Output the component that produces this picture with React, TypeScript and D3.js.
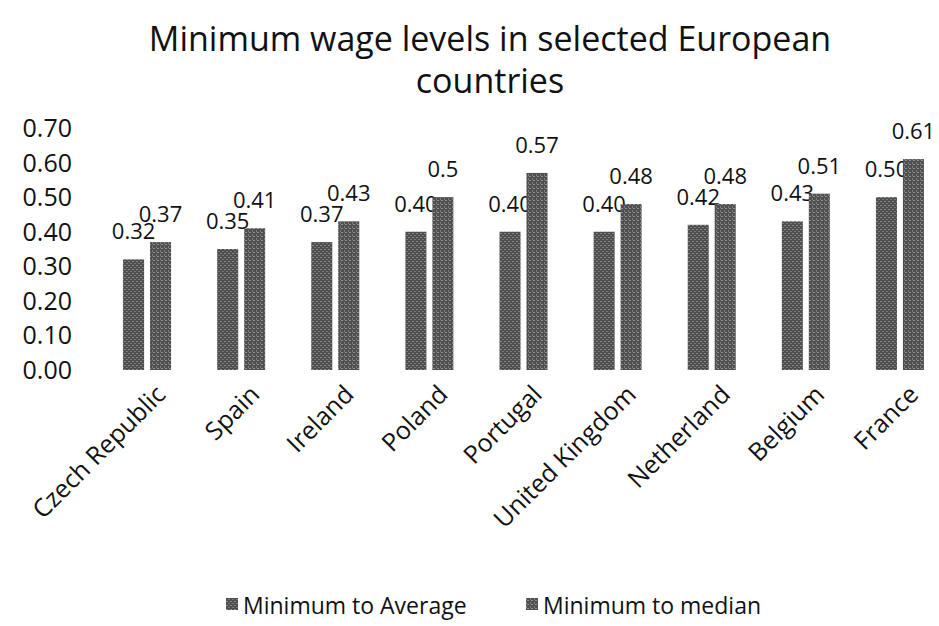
import React from "react";
import * as d3 from "d3";

const categories = ["Czech Republic", "Spain", "Ireland", "Poland", "Portugal", "United Kingdom", "Netherland", "Belgium", "France"];
const seriesNames = ["Minimum to Average", "Minimum to median"];
const minToAverage = [0.32, 0.35, 0.37, 0.40, 0.40, 0.40, 0.42, 0.43, 0.50];
const minToMedian = [0.37, 0.41, 0.43, 0.5, 0.57, 0.48, 0.48, 0.51, 0.61];
const avgLabels = ["0.32", "0.35", "0.37", "0.40", "0.40", "0.40", "0.42", "0.43", "0.50"];
const medLabels = ["0.37", "0.41", "0.43", "0.5", "0.57", "0.48", "0.48", "0.51", "0.61"];
const yTicks = [0, 0.1, 0.2, 0.3, 0.4, 0.5, 0.6, 0.7];

const W = 939, H = 626;
const FONT = "'Open Sans', 'Noto Sans', sans-serif";

export default function App() {
  const x0 = d3.scaleBand<string>().domain(categories).range([100, 947]).paddingInner(0.49).paddingOuter(0.245);
  const x1 = d3.scaleBand<string>().domain(seriesNames).range([0, x0.bandwidth()]).paddingInner(0.22);
  const y = d3.scaleLinear().domain([0, 0.7]).range([370, 128]);
  const series = [minToAverage, minToMedian];
  const labels = [avgLabels, medLabels];

  return (
    <svg width={W} height={H} style={{ position: "absolute", left: 0, top: 0, background: "#fff" }} fontFamily={FONT}>
      <defs>
        <pattern id="tex0" width="4" height="4" patternUnits="userSpaceOnUse">
          <rect width="4" height="4" fill="#4e4e4e" />
          <rect x="0" y="1" width="2" height="1" fill="#8a8a8a" />
          <rect x="2" y="3" width="2" height="1" fill="#7a7a7a" />
        </pattern>
        <pattern id="tex1" width="4" height="4" patternUnits="userSpaceOnUse">
          <rect width="4" height="4" fill="#505050" />
          <rect x="1" y="0" width="2" height="1" fill="#8f8f8f" />
          <rect x="0" y="2" width="1" height="2" fill="#7d7d7d" />
        </pattern>
      </defs>
      <text x={490} y={51} textAnchor="middle" fontSize={34} fill="#111">Minimum wage levels in selected European</text>
      <text x={490} y={93} textAnchor="middle" fontSize={34} fill="#111">countries</text>

      {yTicks.map((t) => (
        <text key={t} x={72} y={y(t) + 9} textAnchor="end" fontSize={25} fill="#111">{t.toFixed(2)}</text>
      ))}

      {categories.map((c, i) => (
        <g key={c}>
          {series.map((s, k) => {
            const bx = (x0(c) as number) + (x1(seriesNames[k]) as number);
            return (
              <g key={k}>
                <rect x={bx} y={y(s[i])} width={x1.bandwidth()} height={y(0) - y(s[i])} fill={`url(#tex${k})`} />
                <text x={bx + x1.bandwidth() / 2} y={y(s[i]) - 20} textAnchor="middle" fontSize={22} fill="#111">{labels[k][i]}</text>
              </g>
            );
          })}
          <text
            transform={`translate(${(x0(c) as number) + x0.bandwidth() / 2 + 20},${396}) rotate(-45)`}
            textAnchor="end"
            fontSize={25}
            fill="#111"
          >{c}</text>
        </g>
      ))}

      {seriesNames.map((n, k) => (
        <g key={n} transform={`translate(${[226, 526][k]},0)`}>
          <rect x={0} y={598} width={12} height={12} fill={`url(#tex${k})`} />
          <text x={17} y={614} fontSize={23} fill="#111">{n}</text>
        </g>
      ))}
    </svg>
  );
}
